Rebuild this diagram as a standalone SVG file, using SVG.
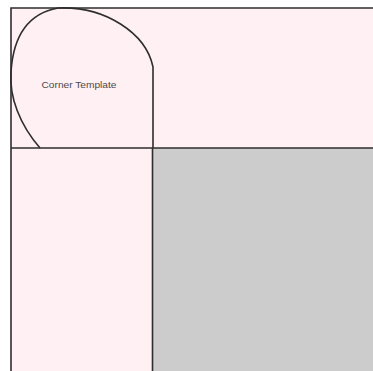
<svg xmlns="http://www.w3.org/2000/svg" width="373" height="371" viewBox="0 0 373 371">
<style>
.ln{stroke:#2e2e2e;stroke-width:1.6;fill:none}
.pink{fill:#fff0f3}
</style>
<rect width="373" height="371" fill="#ffffff"/>
<g id="panel">
<rect class="pink" x="11" y="8" width="362" height="363"/>
<rect x="152" y="148" width="221" height="223" fill="#cccccc"/>
</g>
<g id="corner-template">
<path class="ln" d="M40,148 C20,125 9,97 11,72 C13,40 25,14 58,8 C105,6 146,33 153,67 L153,148"/>
<text x="79" y="87.5" font-family="Liberation Sans, Arial, sans-serif" font-size="9" fill="#4a4a4a" text-anchor="middle" textLength="75" lengthAdjust="spacingAndGlyphs">Corner Template</text>
</g>
<g id="connectors">
<path class="ln" d="M11,371 L11,8 L373,8"/>
<path class="ln" d="M11,148 L373,148"/>
<path class="ln" d="M152.5,148 L152.5,371"/>
</g>
</svg>
